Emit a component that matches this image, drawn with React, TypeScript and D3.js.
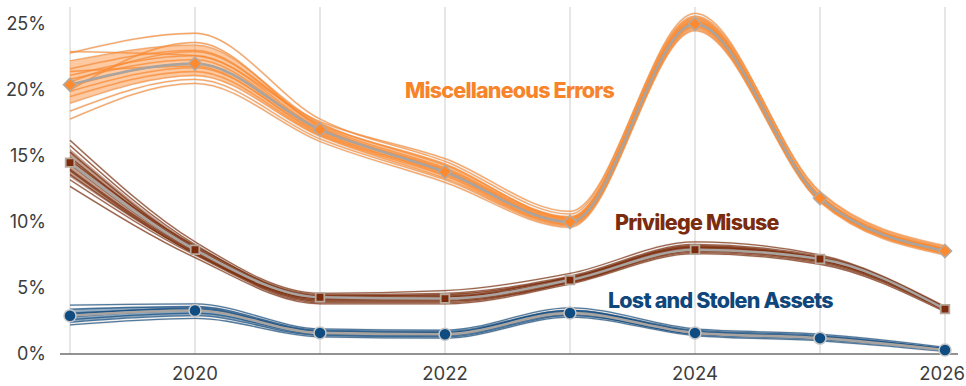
import React from "react";
import * as d3 from "d3";

const years = [2019, 2020, 2021, 2022, 2023, 2024, 2025, 2026];
const yTicks = [0, 5, 10, 15, 20, 25];
const xTickLabels = [2020, 2022, 2024, 2026];

const miscMain = [20.4, 22.0, 17.0, 13.8, 10.0, 25.0, 11.8, 7.8];
const privMain = [14.5, 7.9, 4.3, 4.2, 5.6, 7.9, 7.2, 3.4];
const lostMain = [2.9, 3.3, 1.6, 1.5, 3.1, 1.6, 1.2, 0.3];

const miscSamples = [
  [22.8, 24.3, 17.8, 14.6, 10.6, 25.8, 12.2, 8.1],
  [22.2, 23.4, 17.5, 14.3, 10.4, 25.5, 12.0, 8.0],
  [21.6, 23.0, 17.3, 14.1, 10.3, 25.3, 11.9, 7.9],
  [21.1, 22.6, 17.1, 14.0, 10.2, 25.2, 11.9, 7.9],
  [20.8, 22.3, 17.0, 13.9, 10.1, 25.1, 11.8, 7.8],
  [20.3, 22.0, 16.9, 13.8, 10.0, 25.0, 11.8, 7.8],
  [19.9, 21.7, 16.8, 13.6, 9.9, 24.9, 11.7, 7.7],
  [19.5, 21.4, 16.6, 13.5, 9.8, 24.8, 11.7, 7.7],
  [19.0, 21.1, 16.5, 13.3, 9.8, 24.7, 11.6, 7.6],
  [18.4, 20.8, 16.3, 13.2, 9.7, 24.6, 11.6, 7.6],
  [17.8, 20.5, 16.1, 13.0, 9.6, 24.5, 11.5, 7.5],
  [22.9, 22.6, 17.6, 14.8, 10.8, 25.6, 12.3, 8.2],
  [20.0, 23.6, 17.2, 13.9, 10.1, 25.2, 11.9, 7.9],
  [21.4, 21.8, 16.7, 13.7, 10.0, 25.0, 11.7, 7.8],
  [20.6, 22.9, 17.4, 14.4, 10.3, 25.4, 12.0, 8.0],
];

const privSamples = [
  [16.2, 8.5, 4.6, 4.8, 6.1, 8.5, 7.5, 3.6],
  [15.8, 8.3, 4.5, 4.6, 5.9, 8.3, 7.4, 3.5],
  [15.3, 8.1, 4.4, 4.4, 5.8, 8.2, 7.3, 3.5],
  [14.9, 8.0, 4.3, 4.3, 5.7, 8.1, 7.2, 3.4],
  [14.4, 7.8, 4.2, 4.2, 5.6, 8.0, 7.2, 3.4],
  [14.0, 7.7, 4.1, 4.1, 5.5, 7.9, 7.1, 3.4],
  [13.6, 7.6, 4.0, 4.0, 5.4, 7.8, 7.0, 3.3],
  [13.2, 7.5, 3.9, 3.9, 5.4, 7.7, 6.9, 3.3],
  [12.7, 7.3, 3.8, 3.8, 5.3, 7.6, 6.8, 3.2],
  [14.7, 8.2, 4.4, 4.5, 5.8, 8.1, 7.3, 3.5],
  [13.9, 7.6, 4.2, 4.3, 5.6, 7.9, 7.1, 3.4],
];

const lostSamples = [
  [3.7, 3.8, 1.9, 1.8, 3.5, 1.9, 1.5, 0.5],
  [3.4, 3.6, 1.8, 1.7, 3.3, 1.8, 1.4, 0.4],
  [3.1, 3.4, 1.7, 1.6, 3.2, 1.7, 1.3, 0.4],
  [2.8, 3.3, 1.6, 1.5, 3.1, 1.6, 1.2, 0.3],
  [2.6, 3.1, 1.5, 1.4, 3.0, 1.5, 1.2, 0.3],
  [2.4, 2.9, 1.4, 1.3, 2.9, 1.5, 1.1, 0.3],
  [2.2, 2.7, 1.3, 1.2, 2.8, 1.4, 1.0, 0.2],
  [3.0, 3.5, 1.7, 1.6, 3.3, 1.7, 1.3, 0.4],
];

const W = 966;
const H = 386;
const FONT = "Inter, 'Liberation Sans', sans-serif";

export default function App() {
  const x = d3.scaleLinear().domain([2019, 2026]).range([70, 945]);
  const y = d3.scaleLinear().domain([0, 25]).range([354, 24]);
  const line = d3
    .line<number>()
    .x((_, i) => x(years[i]))
    .y((d) => y(d))
    .curve(d3.curveMonotoneX);
  const area = d3
    .area<[number, number]>()
    .x((_, i) => x(years[i]))
    .y0((d) => y(d[0]))
    .y1((d) => y(d[1]))
    .curve(d3.curveMonotoneX);

  const series = [
    { main: miscMain, samples: miscSamples, color: "#ff8a2e", marker: "diamond" },
    { main: privMain, samples: privSamples, color: "#7c2c0c", marker: "square" },
    { main: lostMain, samples: lostSamples, color: "#0f4c81", marker: "circle" },
  ];

  const diamond = d3.symbol().type(d3.symbolDiamond2).size(110)();
  const square = d3.symbol().type(d3.symbolSquare2).size(95)();
  const lastYear = xTickLabels[xTickLabels.length - 1];

  return (
    <svg
      width={W}
      height={H}
      style={{ position: "absolute", left: 0, top: 0, background: "#fff" }}
      fontFamily={FONT}
    >
      {years.map((yr) => (
        <line key={yr} x1={x(yr)} x2={x(yr)} y1={7} y2={354} stroke="#d9d9d9" strokeWidth={1.3} />
      ))}
      <line x1={60} x2={958} y1={354} y2={354} stroke="#6e6e6e" strokeWidth={1.5} />
      {yTicks.map((t) => (
        <text key={t} x={46} y={y(t)} dy="0.35em" textAnchor="end" fontSize={18} fill="#3d3d3d">
          {t}%
        </text>
      ))}
      {xTickLabels.map((t) =>
        t === lastYear ? (
          <text key={t} x={W - 1} y={380} textAnchor="end" fontSize={18.5} fill="#3d3d3d">
            {t}
          </text>
        ) : (
          <text key={t} x={x(t)} y={380} textAnchor="middle" fontSize={18.5} fill="#3d3d3d">
            {t}
          </text>
        )
      )}
      {series.map((s, si) => {
        const band: [number, number][] = years.map((_, i) => {
          const vals = s.samples.map((r) => r[i]).sort(d3.ascending);
          const lo = d3.quantile(vals, 0.15) as number;
          const hi = d3.quantile(vals, 0.85) as number;
          return [lo, hi];
        });
        return (
          <g key={si}>
            {s.samples.map((d, i) => (
              <path key={"o" + i} d={line(d) || ""} fill="none" stroke="#b8b0a8" strokeOpacity={0.3} strokeWidth={2.2} />
            ))}
            <path d={area(band) || ""} fill={s.color} fillOpacity={0.45} />
            {s.samples.map((d, i) => (
              <path key={i} d={line(d) || ""} fill="none" stroke={s.color} strokeOpacity={0.7} strokeWidth={1.3} />
            ))}
            <path d={line(s.main) || ""} fill="none" stroke="#a9a4a0" strokeWidth={2.6} />
            {s.main.map((v, i) => {
              const cx = x(years[i]);
              const cy = y(v);
              if (s.marker === "diamond")
                return (
                  <path key={i} d={diamond || ""} transform={`translate(${cx},${cy})`} fill={s.color} stroke="#b3a9a0" strokeWidth={1.5} />
                );
              if (s.marker === "square")
                return (
                  <path key={i} d={square || ""} transform={`translate(${cx},${cy})`} fill={s.color} stroke="#b7a89c" strokeWidth={1.8} />
                );
              return <circle key={i} cx={cx} cy={cy} r={6} fill={s.color} stroke="#c6c6c6" strokeWidth={1.5} />;
            })}
          </g>
        );
      })}
      <text x={405} y={98} fontSize={21.5} fontWeight={800} letterSpacing={-0.8} fill="#f7842a">
        Miscellaneous Errors
      </text>
      <text x={615} y={230} fontSize={21.5} fontWeight={800} letterSpacing={-0.8} fill="#7b2c0e">
        Privilege Misuse
      </text>
      <text x={608} y={308} fontSize={21.5} fontWeight={800} letterSpacing={-0.8} fill="#0f477c">
        Lost and Stolen Assets
      </text>
    </svg>
  );
}
